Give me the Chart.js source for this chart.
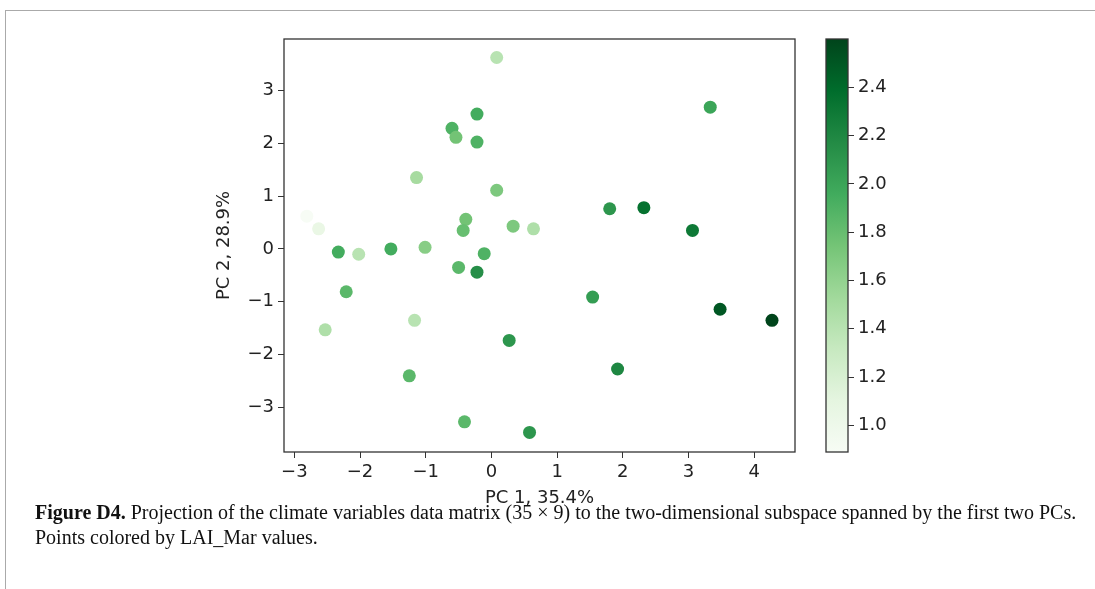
<!DOCTYPE html>
<html>
<head>
<meta charset="utf-8">
<script src="https://cdn.jsdelivr.net/npm/chart.js@4.4.0/dist/chart.umd.min.js"></script>
<style>
  html, body { margin: 0; padding: 0; background: #fff; }
  body { width: 1095px; height: 589px; position: relative; overflow: hidden; }
  .frame { position: absolute; left: 5px; top: 10px; width: 1100px; height: 600px;
           border-top: 1px solid #aaa; border-left: 1px solid #aaa; }
  #scatter { position: absolute; left: 0; top: 0; }
  #cbar { position: absolute; left: 800px; top: 0; }
  .caption { position: absolute; left: 35px; top: 500px; width: 1060px;
             font-family: 'Liberation Serif', 'DejaVu Serif', serif; font-size: 20px;
             line-height: 25px; color: #111; white-space: nowrap; }
</style>
</head>
<body>
<div class="frame"></div>
<canvas id="scatter" width="1095" height="589"></canvas>
<canvas id="cbar" width="120" height="589"></canvas>
<div class="caption">
  <div><b>Figure D4.</b> Projection of the climate variables data matrix (35 &times; 9) to the two-dimensional subspace spanned by the first two PCs.</div>
  <div>Points colored by LAI_Mar values.</div>
</div>
<script>
// PCA scores
const pc1 = [0.08, -0.60, -0.54, -0.22, -0.22, -1.14, 0.08, -2.81, -2.63, -0.39,
             -0.43, 0.33, -2.33, -2.02, -1.53, -1.01, -0.11, -0.50, -0.22, -2.21,
             -2.53, -1.17, 0.27, -1.25, -0.41, 3.33, 1.80, 2.32, 3.06, 0.64,
             1.54, 3.48, 4.27, 1.92, 0.58];
const pc2 = [3.62, 2.28, 2.11, 2.55, 2.02, 1.35, 1.11, 0.62, 0.38, 0.56,
             0.35, 0.43, -0.06, -0.10, 0.00, 0.03, -0.09, -0.35, -0.44, -0.81,
             -1.53, -1.35, -1.73, -2.40, -3.27, 2.68, 0.76, 0.78, 0.35, 0.38,
             -0.91, -1.14, -1.35, -2.27, -3.47];
// LAI_Mar values used for colouring
const laiMar = [1.40, 1.90, 1.75, 1.95, 1.90, 1.50, 1.70, 0.89, 1.05, 1.75,
                1.80, 1.70, 1.95, 1.40, 1.95, 1.65, 1.90, 1.85, 2.15, 1.85,
                1.45, 1.40, 2.10, 1.85, 1.85, 2.00, 2.10, 2.35, 2.30, 1.45,
                2.05, 2.50, 2.60, 2.20, 2.10];

const xTicks = [-3, -2, -1, 0, 1, 2, 3, 4];
const yTicks = [-3, -2, -1, 0, 1, 2, 3];
const cbTicks = [1.0, 1.2, 1.4, 1.6, 1.8, 2.0, 2.2, 2.4];

// matplotlib "Greens"
const greens = ['#f7fcf5', '#e5f5e0', '#c7e9c0', '#a1d99b', '#74c476', '#41ab5d', '#238b45', '#006d2c', '#00441b'];
const vmin = Math.min(...laiMar), vmax = Math.max(...laiMar);

function hexRgb(h) {
  return [parseInt(h.substr(1, 2), 16), parseInt(h.substr(3, 2), 16), parseInt(h.substr(5, 2), 16)];
}
function greenAt(v) {
  let t = (v - vmin) / (vmax - vmin);
  t = Math.max(0, Math.min(1, t));
  const pos = t * (greens.length - 1);
  const i = Math.min(Math.floor(pos), greens.length - 2);
  const f = pos - i;
  const a = hexRgb(greens[i]), b = hexRgb(greens[i + 1]);
  const c = a.map((x, k) => Math.round(x + (b[k] - x) * f));
  return `rgb(${c[0]},${c[1]},${c[2]})`;
}

const points = pc1.map((x, i) => ({ x: x, y: pc2[i] }));
const colors = laiMar.map(greenAt);

const fmtMinus = v => (v < 0 ? '\u2212' + Math.abs(v) : String(v));
const tickFont = { family: 'DejaVu Sans', size: 18 };
const ink = '#222';

// box around the plotting area (matplotlib spines)
const boxPlugin = {
  id: 'box',
  afterDraw(chart) {
    const a = chart.chartArea, c = chart.ctx;
    c.save();
    c.strokeStyle = '#333';
    c.lineWidth = 1.3;
    c.strokeRect(a.left, a.top, a.right - a.left, a.bottom - a.top);
    c.restore();
  }
};

new Chart(document.getElementById('scatter'), {
  type: 'scatter',
  data: {
    datasets: [{
      data: points,
      pointRadius: 6.5,
      pointHoverRadius: 6.5,
      pointBackgroundColor: colors,
      pointBorderColor: colors,
      pointBorderWidth: 0
    }]
  },
  options: {
    responsive: false,
    animation: false,
    events: [],
    layout: { padding: { left: 214, top: 39, right: 300, bottom: 80 } },
    plugins: { legend: { display: false }, tooltip: { enabled: false } },
    scales: {
      x: {
        type: 'linear', min: -3.157, max: 4.62,
        afterBuildTicks: s => { s.ticks = xTicks.map(v => ({ value: v })); },
        afterFit: s => { s.height = 57; },
        border: { display: false },
        grid: { drawOnChartArea: false, drawTicks: true, tickLength: 6, tickColor: '#333' },
        ticks: { font: tickFont, color: ink, padding: 4, callback: fmtMinus, maxRotation: 0 },
        title: { display: true, text: 'PC 1, 35.4%', font: tickFont, color: ink, padding: { top: 0, bottom: 0 } }
      },
      y: {
        type: 'linear', min: -3.84, max: 3.97,
        afterBuildTicks: s => { s.ticks = yTicks.map(v => ({ value: v })); },
        afterFit: s => { s.width = 70; },
        border: { display: false },
        grid: { drawOnChartArea: false, drawTicks: true, tickLength: 6, tickColor: '#333' },
        ticks: { font: tickFont, color: ink, padding: 4, callback: fmtMinus },
        title: { display: true, text: 'PC 2, 28.9%', font: tickFont, color: ink, padding: { top: 0, bottom: 0 } }
      }
    }
  },
  plugins: [boxPlugin]
});

// colour bar
new Chart(document.getElementById('cbar'), {
  type: 'bar',
  data: {
    labels: ['LAI_Mar'],
    datasets: [{
      data: [[vmin, vmax]],
      barPercentage: 1,
      categoryPercentage: 1,
      borderWidth: 0,
      backgroundColor: ctx => {
        const area = ctx.chart.chartArea;
        if (!area) return greens[4];
        const g = ctx.chart.ctx.createLinearGradient(0, area.bottom, 0, area.top);
        greens.forEach((c, i) => g.addColorStop(i / (greens.length - 1), c));
        return g;
      }
    }]
  },
  options: {
    responsive: false,
    animation: false,
    events: [],
    layout: { padding: { left: 26, top: 39, right: 0, bottom: 137 } },
    plugins: { legend: { display: false }, tooltip: { enabled: false } },
    scales: {
      x: { display: false },
      y: {
        position: 'right', min: vmin, max: vmax,
        afterBuildTicks: s => { s.ticks = cbTicks.map(v => ({ value: v })); },
        afterFit: s => { s.width = 72; },
        border: { display: false },
        grid: { drawOnChartArea: false, drawTicks: true, tickLength: 6, tickColor: '#333' },
        ticks: { font: tickFont, color: ink, padding: 4, callback: v => Number(v).toFixed(1) }
      }
    }
  },
  plugins: [boxPlugin]
});
</script>
</body>
</html>
